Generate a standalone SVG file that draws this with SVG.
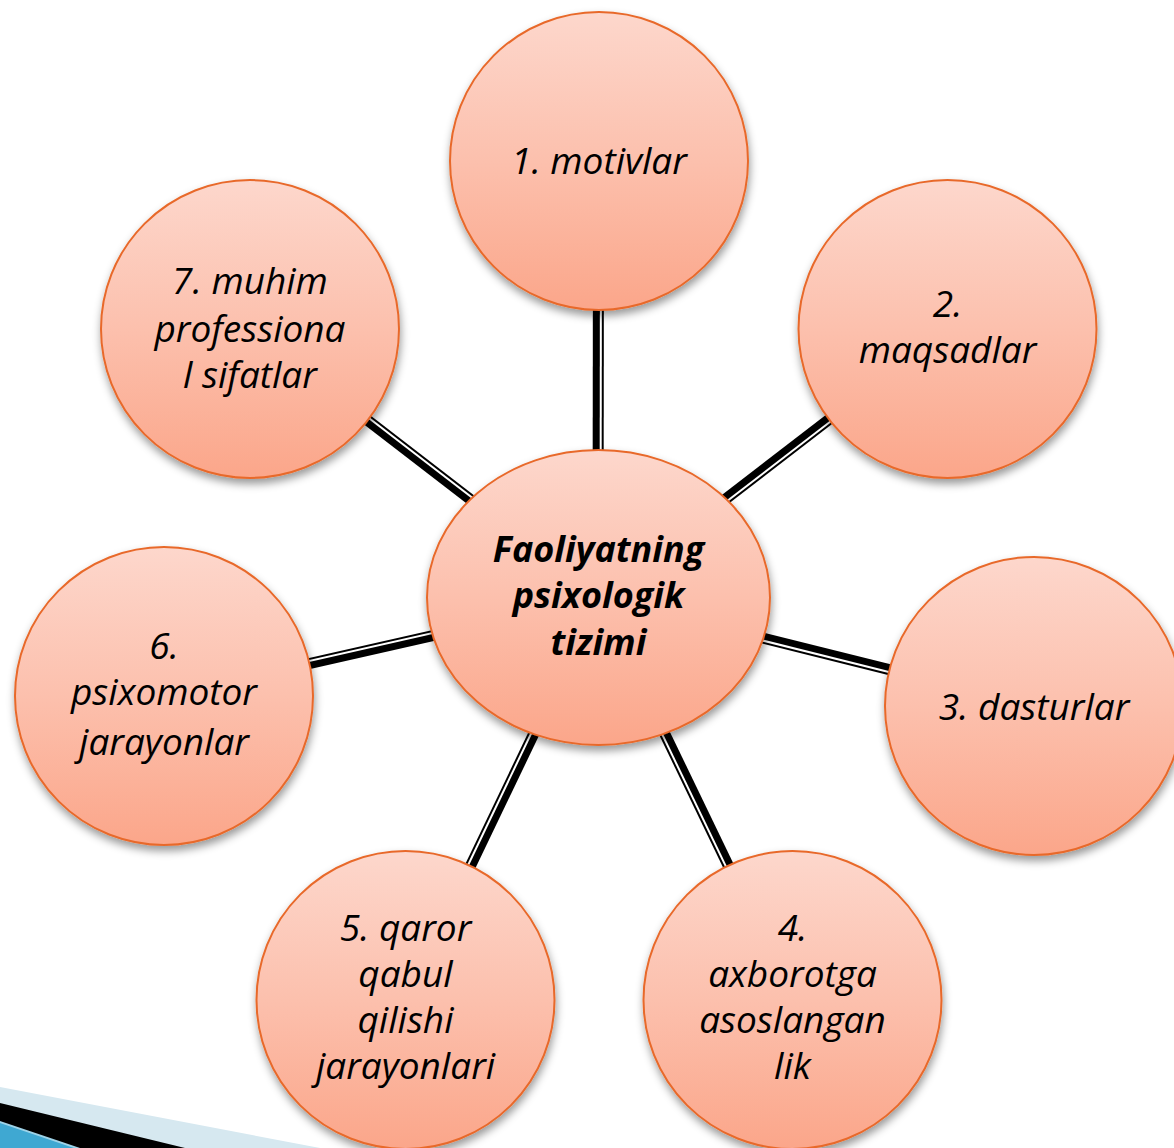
<svg xmlns="http://www.w3.org/2000/svg" width="1174" height="1148" viewBox="0 0 1174 1148">
  <defs>
    <linearGradient id="fill" x1="0" y1="0" x2="0" y2="1">
      <stop offset="0" stop-color="#FDD7CC"/>
      <stop offset="0.5" stop-color="#FCC0AD"/>
      <stop offset="1" stop-color="#FBA68A"/>
    </linearGradient>
    <filter id="shadow" x="-20%" y="-20%" width="140%" height="145%">
      <feDropShadow dx="1" dy="5" stdDeviation="4" flood-color="#000" flood-opacity="0.4"/>
    </filter>
  </defs>
  <style>
    .node { fill: url(#fill); stroke: #E8692A; stroke-width: 2; filter: url(#shadow); }
    .lbl { font-family: "Open Sans", Lato, "Liberation Sans", sans-serif; font-style: italic; font-size: 37px; fill: #000; text-anchor: middle; }
    .ctr { font-weight: bold; font-size: 36px; }
    .thick { stroke: #000; stroke-width: 7; }
    .thin { stroke: #000; stroke-width: 2; }
  </style>
  <rect width="1174" height="1148" fill="#FFFFFF"/>

  <g id="decoration">
    <polygon points="0,1087 320,1148 0,1148" fill="#D6E8F0"/>
    <polygon points="0,1103 185,1148 0,1148" fill="#000"/>
    <polygon points="0,1121 80,1148 0,1148" fill="#9ED3E8"/>
    <polygon points="0,1123 74,1148 0,1148" fill="#3FA8D2"/>
  </g>

  <g id="connectors">
    <g transform="translate(598.5,597.5) rotate(-89.93)"><line class="thick" x1="0" y1="-2.5" x2="436" y2="-2.5"/><line class="thin" x1="0" y1="4" x2="436" y2="4"/></g>
    <g transform="translate(598.5,597.5) rotate(-37.58)"><line class="thick" x1="0" y1="-2.5" x2="440" y2="-2.5"/><line class="thin" x1="0" y1="4" x2="440" y2="4"/></g>
    <g transform="translate(598.5,597.5) rotate(14.02)"><line class="thick" x1="0" y1="-2.5" x2="447" y2="-2.5"/><line class="thin" x1="0" y1="4" x2="447" y2="4"/></g>
    <g transform="translate(598.5,597.5) rotate(64.27)"><line class="thick" x1="0" y1="-2.5" x2="446" y2="-2.5"/><line class="thin" x1="0" y1="4" x2="446" y2="4"/></g>
    <g transform="translate(598.5,597.5) rotate(115.6)"><line class="thick" x1="0" y1="-2.5" x2="446" y2="-2.5"/><line class="thin" x1="0" y1="4" x2="446" y2="4"/></g>
    <g transform="translate(598.5,597.5) rotate(167.23)"><line class="thick" x1="0" y1="-2.5" x2="445" y2="-2.5"/><line class="thin" x1="0" y1="4" x2="445" y2="4"/></g>
    <g transform="translate(598.5,597.5) rotate(-142.39)"><line class="thick" x1="0" y1="-2.5" x2="440" y2="-2.5"/><line class="thin" x1="0" y1="4" x2="440" y2="4"/></g>
  </g>

  <g id="center">
    <ellipse class="node" cx="598.5" cy="597.5" rx="171.5" ry="147.5"/>
    <text class="lbl ctr" x="598.5" y="562">Faoliyatning</text>
    <text class="lbl ctr" x="598.5" y="608">psixologik</text>
    <text class="lbl ctr" x="598.5" y="655">tizimi</text>
  </g>

  <g id="n1">
    <circle class="node" cx="599" cy="161" r="149"/>
    <text class="lbl" x="599" y="174">1. motivlar</text>
  </g>
  <g id="n2">
    <circle class="node" cx="947.5" cy="329" r="149"/>
    <text class="lbl" x="947.5" y="317">2.</text>
    <text class="lbl" x="947.5" y="363">maqsadlar</text>
  </g>
  <g id="n3">
    <circle class="node" cx="1034" cy="706" r="149"/>
    <text class="lbl" x="1034" y="720">3. dasturlar</text>
  </g>
  <g id="n4">
    <circle class="node" cx="792.5" cy="1000" r="149"/>
    <text class="lbl" x="792.5" y="941">4.</text>
    <text class="lbl" x="792.5" y="987">axborotga</text>
    <text class="lbl" x="792.5" y="1033">asoslangan</text>
    <text class="lbl" x="792.5" y="1079">lik</text>
  </g>
  <g id="n5">
    <circle class="node" cx="405.5" cy="1000" r="149"/>
    <text class="lbl" x="405.5" y="941">5. qaror</text>
    <text class="lbl" x="405.5" y="987">qabul</text>
    <text class="lbl" x="405.5" y="1033">qilishi</text>
    <text class="lbl" x="405.5" y="1079">jarayonlari</text>
  </g>
  <g id="n6">
    <circle class="node" cx="164" cy="696" r="149"/>
    <text class="lbl" x="164" y="659">6.</text>
    <text class="lbl" x="164" y="705">psixomotor</text>
    <text class="lbl" x="164" y="755">jarayonlar</text>
  </g>
  <g id="n7">
    <circle class="node" cx="250" cy="329" r="149"/>
    <text class="lbl" x="250" y="294">7. muhim</text>
    <text class="lbl" x="250" y="342">professiona</text>
    <text class="lbl" x="250" y="388">l sifatlar</text>
  </g>
</svg>
